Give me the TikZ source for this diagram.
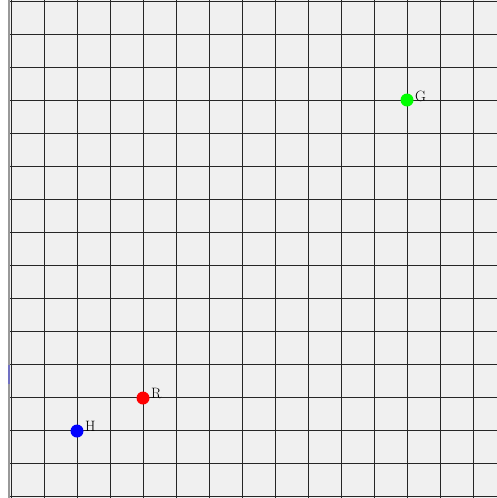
\documentclass[tikz,border=0pt]{standalone}
\begin{document}
\begin{tikzpicture}[x=1pt,y=-1pt,
  gridline/.style={line width=1pt,draw=black!85},
  dot/.style={circle,inner sep=0pt,minimum size=13pt},
  lbl/.style={anchor=base west,inner sep=0pt,font=\fontsize{15}{17}\selectfont}]
\useasboundingbox (0,0) rectangle (497,498);
\fill[white] (0,0) rectangle (497,498);
\fill[black!6] (10,0) rectangle (497,498);
\fill[black!40] (8,0) rectangle (10,498);
\fill[blue!40!gray!80] (8,365) rectangle (10,384);
\foreach \i in {0,...,14} \draw[gridline] (11+33*\i,0) -- (11+33*\i,498);
\foreach \j in {0,...,15} \draw[gridline] (10,1+33*\j) -- (497,1+33*\j);
\node[dot,fill={rgb,255:red,0;green,255;blue,0}] (g) at (407,100) {};
\node[dot,fill=red] (r) at (143,398) {};
\node[dot,fill=blue] (h) at (77,431) {};
\node[lbl] (gl) at (415,101) {G};
\node[lbl] (rl) at (151,398) {R};
\node[lbl] (hl) at (85,431) {H};
\end{tikzpicture}
\end{document}
